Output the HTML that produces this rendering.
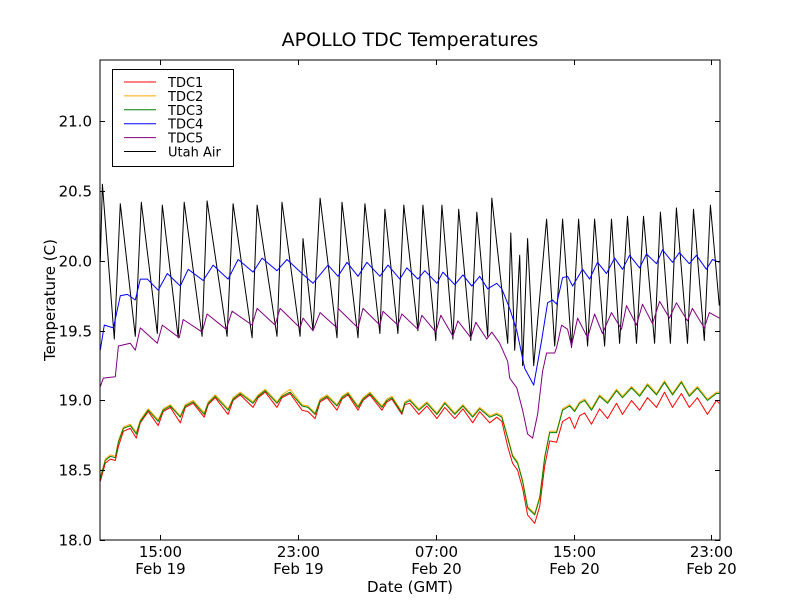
<!DOCTYPE html>
<html><head><meta charset="utf-8"><style>
html,body{margin:0;padding:0;background:#fff;}
svg{display:block;font-family:"DejaVu Sans","Liberation Sans",sans-serif;}
</style></head><body>
<svg id="chart" width="800" height="600" viewBox="0 0 800 600">
<rect x="0" y="0" width="800" height="600" fill="#fff"/>
<text x="410" y="46" font-size="19" text-anchor="middle">APOLLO TDC Temperatures</text>
<text x="55" y="300" font-size="15" text-anchor="middle" transform="rotate(-90 55 300)">Temperature (C)</text>
<text x="410" y="592" font-size="15" text-anchor="middle">Date (GMT)</text>
<g id="series"></g>
<g id="axes"></g>
<g id="legend"></g>
</svg>
<script>
// hours since Feb 19 00:00 GMT
const xTickHours = [15, 23, 31, 39, 47];
const xTickTimes = ["15:00", "23:00", "07:00", "15:00", "23:00"];
const xTickDates = ["Feb 19", "Feb 19", "Feb 20", "Feb 20", "Feb 20"];
const yTicks = [18.0, 18.5, 19.0, 19.5, 20.0, 20.5, 21.0];
const yTickLabels = ["18.0", "18.5", "19.0", "19.5", "20.0", "20.5", "21.0"];
const seriesNames = ["TDC1", "TDC2", "TDC3", "TDC4", "TDC5", "Utah Air"];

const utahTimes = [11.52,11.64,12.33,12.68,13.55,13.90,14.83,15.12,16.04,16.39,17.43,17.72,18.88,19.23,20.33,20.62,21.78,22.07,23.12,23.29,23.87,24.28,25.26,25.55,26.48,26.88,27.75,28.04,28.80,29.14,29.96,30.25,31.00,31.35,31.99,32.33,33.03,33.38,34.01,34.25,35.17,35.35,35.58,35.87,36.04,36.33,36.68,37.43,37.90,38.36,38.88,39.29,39.81,40.22,40.80,41.20,41.67,42.13,42.65,43.06,43.70,44.04,44.62,44.97,45.61,45.96,46.59,46.94,47.46];
const utahValues = [20.00,20.55,19.44,20.41,19.46,20.42,19.48,20.40,19.45,20.42,19.46,20.43,19.46,20.41,19.45,20.40,19.46,20.42,19.46,20.16,19.50,20.45,19.45,20.42,19.45,20.41,19.48,20.37,19.48,20.40,19.50,20.40,19.43,20.40,19.44,20.37,19.43,20.35,19.46,20.45,19.41,20.20,19.36,20.04,19.25,20.16,19.25,20.30,19.39,20.30,19.38,20.30,19.39,20.30,19.39,20.30,19.41,20.32,19.41,20.32,19.41,20.35,19.41,20.38,19.41,20.37,19.43,20.40,19.68];

const tdc4Times = [11.52,11.75,12.28,12.68,13.09,13.55,13.84,14.25,14.88,15.41,16.16,16.62,17.49,18.07,18.94,19.52,20.39,20.91,21.78,22.36,23.23,23.87,24.74,25.32,25.84,26.48,27.00,27.75,28.22,28.91,29.32,29.96,30.36,31.06,31.41,32.10,32.57,33.09,33.55,34.01,34.54,34.83,35.29,35.70,36.16,36.68,37.14,37.49,37.78,38.01,38.36,38.65,38.94,39.52,39.93,40.39,40.91,41.38,41.84,42.25,42.83,43.23,43.81,44.16,44.74,45.14,45.72,46.13,46.71,47.06,47.46];
const tdc4Values = [19.36,19.54,19.52,19.75,19.76,19.72,19.87,19.87,19.79,19.91,19.82,19.94,19.86,19.97,19.87,20.01,19.92,20.02,19.93,20.01,19.91,19.84,19.97,19.89,19.99,19.89,19.99,19.89,19.97,19.87,19.95,19.87,19.93,19.84,19.92,19.83,19.90,19.82,19.89,19.80,19.84,19.80,19.66,19.50,19.23,19.11,19.43,19.70,19.72,19.69,19.88,19.89,19.82,19.94,19.87,19.99,19.91,20.02,19.94,20.04,19.95,20.05,19.98,20.08,19.99,20.06,19.98,20.04,19.94,20.01,19.99];

const tdc5Times = [11.52,11.70,12.39,12.57,13.26,13.55,13.84,14.83,15.12,16.10,16.33,17.43,17.72,18.83,19.17,20.33,20.62,21.67,21.96,23.12,23.29,23.87,24.28,25.26,25.32,26.48,26.77,27.75,27.93,28.80,29.03,29.96,30.19,31.00,31.29,31.99,32.28,33.03,33.32,33.96,34.25,34.71,35.17,35.29,35.70,36.04,36.33,36.62,36.91,37.20,37.43,37.90,38.01,38.30,38.65,38.88,39.23,39.81,40.22,40.68,41.20,41.78,42.07,42.65,43.00,43.58,43.99,44.57,44.97,45.61,45.90,46.59,46.88,47.46];
const tdc5Values = [19.10,19.16,19.17,19.39,19.41,19.36,19.52,19.41,19.54,19.45,19.58,19.49,19.62,19.51,19.64,19.54,19.66,19.54,19.66,19.52,19.59,19.50,19.63,19.52,19.66,19.52,19.66,19.54,19.64,19.54,19.62,19.51,19.61,19.49,19.61,19.46,19.57,19.45,19.56,19.44,19.49,19.41,19.28,19.16,19.09,18.93,18.76,18.73,18.90,19.21,19.34,19.34,19.38,19.54,19.51,19.39,19.59,19.45,19.62,19.48,19.63,19.51,19.68,19.54,19.69,19.55,19.71,19.59,19.70,19.57,19.66,19.52,19.63,19.59];

const tdcTimes = [11.52,11.81,12.10,12.39,12.57,12.86,13.26,13.61,13.84,14.30,14.88,15.17,15.58,16.16,16.45,16.91,17.55,17.78,18.19,18.94,19.23,19.64,20.39,20.68,21.09,21.78,22.07,22.54,23.23,23.58,23.99,24.28,24.68,25.26,25.55,25.90,26.48,26.77,27.17,27.87,28.16,28.45,29.03,29.20,29.49,30.01,30.48,31.06,31.52,32.10,32.57,33.14,33.55,34.13,34.54,34.83,35.17,35.46,35.75,36.04,36.33,36.74,37.03,37.32,37.61,38.01,38.36,38.77,39.06,39.35,39.64,40.04,40.51,40.97,41.49,41.84,42.36,42.83,43.29,43.81,44.28,44.74,45.26,45.72,46.19,46.77,47.29,47.46];
const tdc3Values = [18.44,18.57,18.60,18.59,18.70,18.80,18.82,18.76,18.85,18.93,18.85,18.93,18.96,18.88,18.96,18.99,18.90,18.98,19.03,18.93,19.01,19.05,18.98,19.03,19.07,18.98,19.03,19.06,18.96,18.95,18.90,19.00,19.03,18.96,19.02,19.05,18.95,19.01,19.05,18.95,19.00,19.02,18.91,18.98,19.00,18.93,18.98,18.90,18.98,18.90,18.96,18.88,18.94,18.88,18.90,18.88,18.73,18.60,18.55,18.42,18.23,18.18,18.30,18.59,18.77,18.77,18.93,18.96,18.92,18.98,19.00,18.93,19.03,18.98,19.07,19.02,19.09,19.03,19.11,19.04,19.13,19.04,19.13,19.03,19.09,19.00,19.05,19.05];
const tdc2Values = [18.45,18.58,18.61,18.60,18.71,18.81,18.83,18.77,18.86,18.94,18.86,18.94,18.97,18.89,18.97,19.00,18.91,18.99,19.04,18.94,19.02,19.06,18.99,19.04,19.08,18.99,19.04,19.08,18.97,18.96,18.91,19.01,19.04,18.97,19.03,19.06,18.96,19.02,19.06,18.96,19.01,19.03,18.92,18.99,19.01,18.94,18.99,18.91,18.99,18.91,18.97,18.89,18.95,18.89,18.91,18.89,18.74,18.61,18.56,18.43,18.24,18.19,18.31,18.60,18.78,18.78,18.94,18.97,18.93,18.99,19.01,18.94,19.04,18.99,19.08,19.03,19.10,19.04,19.12,19.05,19.14,19.05,19.14,19.04,19.10,19.01,19.06,19.06];
const tdc1Values = [18.42,18.55,18.58,18.57,18.67,18.78,18.80,18.73,18.84,18.92,18.82,18.92,18.95,18.84,18.95,18.98,18.88,18.97,19.02,18.90,19.00,19.04,18.95,19.02,19.06,18.95,19.02,19.05,18.93,18.92,18.87,18.99,19.02,18.93,19.01,19.04,18.93,19.00,19.04,18.93,18.99,19.01,18.90,18.97,18.98,18.90,18.96,18.87,18.95,18.87,18.94,18.84,18.92,18.84,18.88,18.85,18.67,18.55,18.50,18.37,18.18,18.12,18.24,18.53,18.71,18.70,18.85,18.88,18.80,18.89,18.91,18.83,18.94,18.87,18.98,18.90,19.00,18.93,19.02,18.95,19.06,18.95,19.05,18.95,19.02,18.90,19.00,18.98];

const PL = 100, PR = 720, PT = 60, PB = 540;
const X0 = 11.5, X1 = 47.5, Y0 = 18.0, Y1 = 21.44;
function xScale(h) { return PL + (h - X0) / (X1 - X0) * (PR - PL); }
function yScale(v) { return PB - (v - Y0) / (Y1 - Y0) * (PB - PT); }
const NS = "http://www.w3.org/2000/svg";

function drawSeries(times, values, color, name) {
  const pts = times.map((t, i) => xScale(t).toFixed(1) + "," + yScale(values[i]).toFixed(1)).join(" ");
  const pl = document.createElementNS(NS, "polyline");
  pl.setAttribute("points", pts);
  pl.setAttribute("fill", "none");
  pl.setAttribute("stroke", color);
  pl.setAttribute("stroke-width", "1");
  pl.setAttribute("stroke-linejoin", "round");
  
  
  document.getElementById("series").appendChild(pl);
}
drawSeries(utahTimes, utahValues, "#000000", "utah-air-line");
drawSeries(tdc4Times, tdc4Values, "#0000ff", "tdc4-line");
drawSeries(tdc5Times, tdc5Values, "#800080", "tdc5-line");
drawSeries(tdcTimes, tdc1Values, "#ff0000", "tdc1-line");
drawSeries(tdcTimes, tdc2Values, "#ffa500", "tdc2-line");
drawSeries(tdcTimes, tdc3Values, "#008000", "tdc3-line");

const axes = document.getElementById("axes");
function add(tag, attrs, parent) {
  const e = document.createElementNS(NS, tag);
  for (const k in attrs) e.setAttribute(k, attrs[k]);
  (parent || axes).appendChild(e);
  return e;
}
const frame = add("rect", {x: PL, y: PT, width: PR - PL, height: PB - PT, fill: "none", stroke: "#000", "stroke-width": 1});



yTicks.forEach((v, i) => {
  const y = Math.round(yScale(v)) + 0.5;
  add("line", {x1: PL, x2: PL + 5, y1: y, y2: y, stroke: "#000"});
  add("line", {x1: PR - 5, x2: PR, y1: y, y2: y, stroke: "#000"});
  const t = add("text", {x: PL - 8, y: y + 5, "font-size": 15, "text-anchor": "end"});
  t.textContent = yTickLabels[i];
  
  
});
xTickHours.forEach((h, i) => {
  const x = Math.round(xScale(h)) + 0.5;
  add("line", {x1: x, x2: x, y1: PB - 5, y2: PB, stroke: "#000"});
  add("line", {x1: x, x2: x, y1: PT, y2: PT + 5, stroke: "#000"});
  const t = add("text", {x: x, y: 557, "font-size": 15, "text-anchor": "middle"});
  t.textContent = xTickTimes[i];
  
  
  const d = add("text", {x: x, y: 574, "font-size": 15, "text-anchor": "middle"});
  d.textContent = xTickDates[i];
  
  
});

const legendColors = ["#ff0000", "#ffa500", "#008000", "#0000ff", "#800080", "#000000"];
const legend = document.getElementById("legend");
add("rect", {x: 112.5, y: 69.5, width: 121, height: 97, fill: "#fff", stroke: "#000"}, legend);
seriesNames.forEach((n, i) => {
  const y = 82 + i * 13.9;
  add("line", {x1: 124, x2: 156, y1: y, y2: y, stroke: legendColors[i], "stroke-width": 1}, legend);
  const t = add("text", {x: 168, y: y + 5, "font-size": 13}, legend);
  t.textContent = n;
  
  
});
</script>
</body></html>
